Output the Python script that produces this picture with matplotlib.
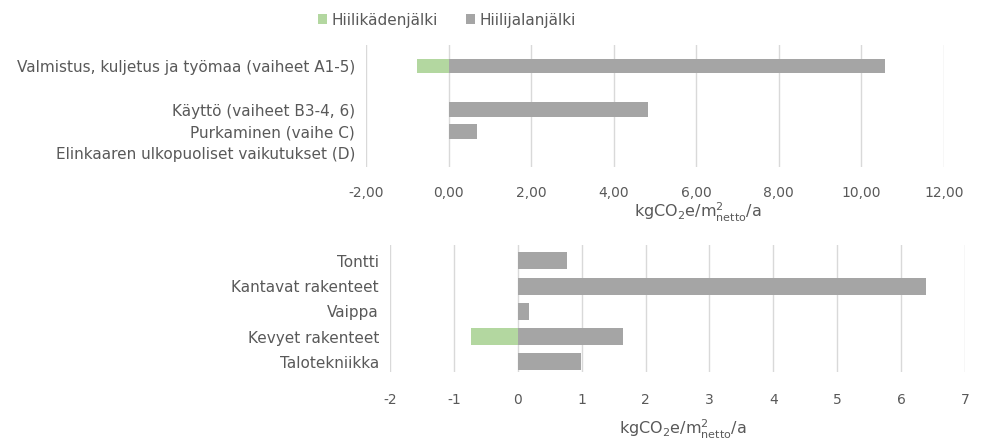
import numpy as np
import matplotlib.pyplot as plt

plt.rcParams['font.family'] = ['DejaVu Sans']
plt.rcParams['mathtext.fontset'] = 'dejavusans'
plt.rcParams['mathtext.default'] = 'regular'

# --- data: elinkaaren vaiheet (ylempi kaavio) ---
vaiheet = ["Valmistus, kuljetus ja työmaa (vaiheet A1-5)", "",
           "Käyttö (vaiheet B3-4, 6)", "Purkaminen (vaihe C)",
           "Elinkaaren ulkopuoliset vaikutukset (D)"]
vaiheet_kadenjalki = [-0.76, 0.0, 0.0, 0.0, 0.0]
vaiheet_jalanjalki = [10.57, 0.0, 4.82, 0.68, 0.0]
ylempi_ticks = [-2, 0, 2, 4, 6, 8, 10, 12]

# --- data: rakennusosat (alempi kaavio) ---
osat = ["Tontti", "Kantavat rakenteet", "Vaippa", "Kevyet rakenteet", "Talotekniikka"]
osat_kadenjalki = [0.0, 0.0, 0.0, -0.73, 0.0]
osat_jalanjalki = [0.77, 6.39, 0.17, 1.64, 0.99]
alempi_ticks = [-2, -1, 0, 1, 2, 3, 4, 5, 6, 7]

VIHREA = "#b3d7a0"
HARMAA = "#a5a5a5"
TEKSTI = "#595959"
RUUDUKKO = "#d9d9d9"
FS = 10

W, H = 1008, 444
fig = plt.figure(figsize=(W / 100, H / 100), dpi=100)


def px_axes(left, top, right, bottom):
    return fig.add_axes([left / W, 1 - bottom / H, (right - left) / W, (bottom - top) / H])


def tyyli(ax, ticks, fmt, xpad):
    ax.set_xlim(ticks[0], ticks[-1])
    ax.set_xticks(ticks)
    ax.set_xticklabels([fmt(t) for t in ticks])
    for s in ax.spines.values():
        s.set_visible(False)
    ax.grid(axis='x', color=RUUDUKKO, linewidth=1)
    ax.set_axisbelow(True)
    ax.tick_params(length=0, colors=TEKSTI, labelsize=FS)
    ax.tick_params(axis='x', pad=xpad)
    ax.tick_params(axis='y', pad=8, labelsize=11)


xlabel = r"kgCO$_2$e/m$^2_{netto}$/a"

# ylempi kaavio
ax1 = px_axes(366, 45, 944, 167)
y1 = np.arange(len(vaiheet))
ax1.barh(y1, vaiheet_kadenjalki, height=0.68, color=VIHREA, label="Hiilikädenjälki")
ax1.barh(y1, vaiheet_jalanjalki, height=0.68, color=HARMAA, label="Hiilijalanjälki")
ax1.set_yticks(y1)
ax1.set_yticklabels(vaiheet)
ax1.set_ylim(4.64, -0.97)
tyyli(ax1, ylempi_ticks, lambda t: f"{t:.2f}".replace(".", ","), 14)
fig.text(698 / W, 1 - 212 / H, xlabel, color=TEKSTI, fontsize=11.5, ha='center', va='center')

# alempi kaavio
ax2 = px_axes(390, 245, 965, 372)
y2 = np.arange(len(osat))
ax2.barh(y2, osat_kadenjalki, height=0.68, color=VIHREA)
ax2.barh(y2, osat_jalanjalki, height=0.68, color=HARMAA)
ax2.set_yticks(y2)
ax2.set_yticklabels(osat)
ax2.set_ylim(4.4, -0.63)
tyyli(ax2, alempi_ticks, lambda t: f"{t:d}", 15)
fig.text(683 / W, 1 - 429 / H, xlabel, color=TEKSTI, fontsize=11.5, ha='center', va='center')

leg = fig.legend(*ax1.get_legend_handles_labels(), loc='center', ncol=2,
                 bbox_to_anchor=(447 / W, 1 - 20 / H), frameon=False,
                 fontsize=11, handlelength=0.6, handleheight=0.6,
                 handletextpad=0.3, columnspacing=1.8)
for t in leg.get_texts():
    t.set_color(TEKSTI)

fig.savefig("out.png", dpi=100)
